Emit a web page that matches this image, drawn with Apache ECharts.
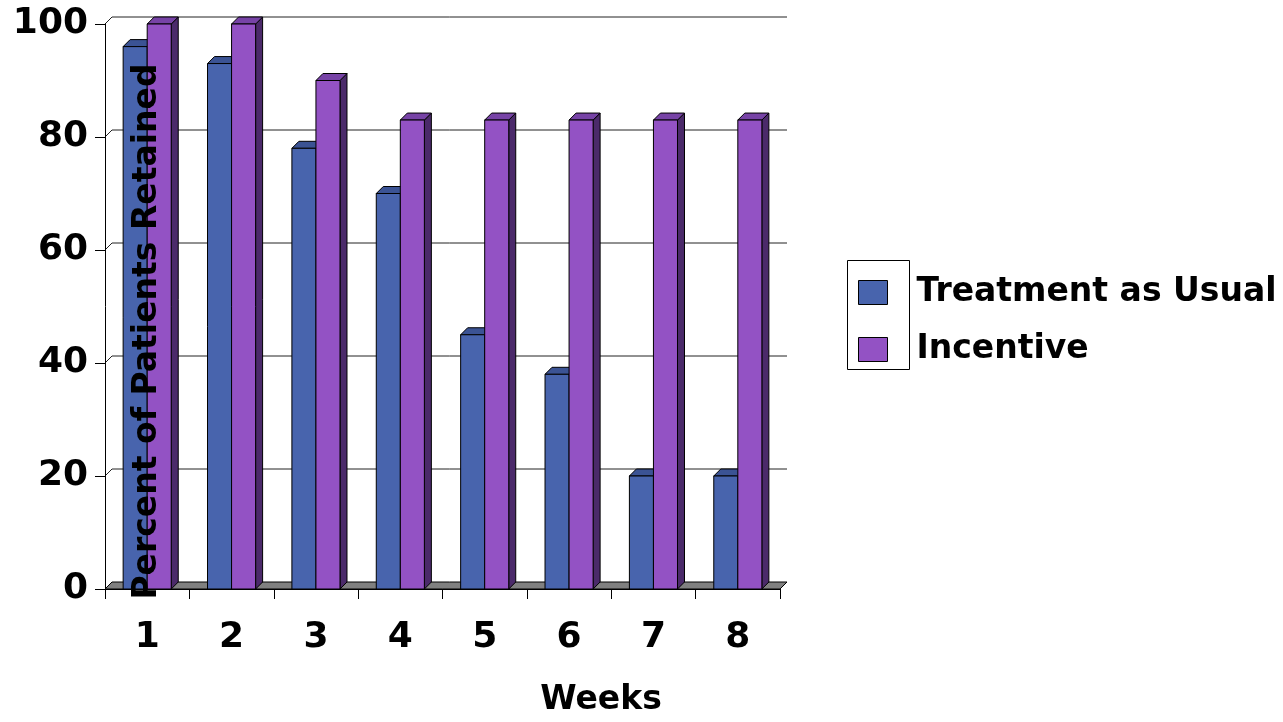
<!DOCTYPE html>
<html>
<head>
<meta charset="utf-8">
<title>Percent of Patients Retained</title>
<script src="https://cdn.jsdelivr.net/npm/echarts@6/dist/echarts.min.js"></script>
<style>
  html, body { margin: 0; padding: 0; background: #fff; }
  #chart { width: 1283px; height: 722px; }
</style>
</head>
<body>
<div id="chart"></div>
<script>
// Retention by week for the two study arms (percent)
const weeks = ['1', '2', '3', '4', '5', '6', '7', '8'];
const treatmentAsUsual = [96, 93, 78, 70, 45, 38, 20, 20];
const incentive = [100, 100, 90, 83, 83, 83, 83, 83];
const yTicks = [0, 20, 40, 60, 80, 100];

const DEPTH = 7;               // pseudo-3D offset, px to the right and up
const FONT = 'DejaVu Sans';

const BLUE = { front: '#4864ad', top: '#3b5394', side: '#2e4174' };
const PURPLE = { front: '#9352c4', top: '#7743a6', side: '#4b2a6a' };

// A column with front face, top face and right side face.
function columnRenderer(slot, colors) {
  return function (params, api) {
    const idx = api.value(0);
    const top = api.coord([idx, api.value(1)]);
    const base = api.coord([idx, 0]);
    const band = api.size([1, 0])[0];
    const w = band * 0.285;
    const x0 = slot === 0 ? top[0] - w : top[0];
    const x1 = x0 + w;
    const yT = top[1];
    const yB = base[1];
    const d = DEPTH;
    const edge = { stroke: '#000', lineWidth: 1 };
    return {
      type: 'group',
      children: [
        { type: 'polygon', shape: { points: [[x1, yB], [x1 + d, yB - d], [x1 + d, yT - d], [x1, yT]] },
          style: Object.assign({ fill: colors.side }, edge) },
        { type: 'polygon', shape: { points: [[x0, yT], [x0 + d, yT - d], [x1 + d, yT - d], [x1, yT]] },
          style: Object.assign({ fill: colors.top }, edge) },
        { type: 'rect', shape: { x: x0, y: yT, width: w, height: yB - yT },
          style: Object.assign({ fill: colors.front }, edge) }
      ]
    };
  };
}

// Back wall gridlines and the floor slab.
function wallRenderer(params, api) {
  const cs = params.coordSys;
  const left = cs.x;
  const right = cs.x + cs.width;
  const v = api.value(1);
  const y = api.coord([0, v])[1];
  const d = DEPTH;
  if (v === 0) {
    return {
      type: 'polygon',
      shape: { points: [[left, y], [left + d, y - d], [right + d, y - d], [right, y]] },
      style: { fill: '#808080', stroke: '#000', lineWidth: 1 }
    };
  }
  return {
    type: 'polyline',
    shape: { points: [[left, y], [left + d, y - d], [right + d, y - d]] },
    style: { fill: null, stroke: '#222', lineWidth: 1 }
  };
}

const chart = echarts.init(document.getElementById('chart'), null, { renderer: 'canvas' });

chart.setOption({
  animation: false,
  backgroundColor: '#fff',
  textStyle: { fontFamily: FONT },
  grid: { left: 105, right: 503, top: 24, bottom: 131 },
  legend: {
    orient: 'vertical',
    left: 858,
    top: 276,
    padding: 0,
    itemWidth: 29,
    itemHeight: 24,
    itemGap: 24,
    selectedMode: false,
    textStyle: { fontFamily: FONT, fontSize: 33, fontWeight: 'bold', color: '#000',
                 lineHeight: 30, padding: [0, 0, 0, 24] },
    data: [
      { name: 'Treatment as Usual', icon: 'rect',
        itemStyle: { color: BLUE.front, borderColor: '#000', borderWidth: 1 } },
      { name: 'Incentive', icon: 'rect',
        itemStyle: { color: PURPLE.front, borderColor: '#000', borderWidth: 1 } }
    ]
  },
  graphic: [
    { type: 'rect', left: 845, top: 258, shape: { width: 62, height: 109 },
      style: { fill: null, stroke: '#000', lineWidth: 1 } }
  ],
  xAxis: {
    type: 'category',
    data: weeks,
    boundaryGap: true,
    name: 'Weeks',
    nameLocation: 'middle',
    nameGap: 95,
    nameTextStyle: { fontFamily: FONT, fontSize: 33, fontWeight: 'bold', color: '#000',
                     padding: [0, 0, 0, 317] },
    axisLine: { show: true, lineStyle: { color: '#000', width: 1 } },
    axisTick: { show: true, alignWithLabel: false, length: 10, lineStyle: { color: '#000' } },
    axisLabel: { fontFamily: FONT, fontSize: 36, fontWeight: 'bold', color: '#000', margin: 31 },
    splitLine: { show: false }
  },
  yAxis: {
    type: 'value',
    min: 0,
    max: 100,
    interval: 20,
    z: 10,
    name: 'Percent of Patients Retained',
    nameLocation: 'middle',
    nameGap: -59,
    nameTextStyle: { fontFamily: FONT, fontSize: 33, fontWeight: 'bold', color: '#000',
                     padding: [0, 50, 0, 0] },
    axisLine: { show: true, lineStyle: { color: '#000', width: 1 } },
    axisTick: { show: true, length: 10, lineStyle: { color: '#000' } },
    axisLabel: { fontFamily: FONT, fontSize: 36, fontWeight: 'bold', color: '#000', margin: 17,
                 formatter: function (v) { return yTicks.indexOf(v) >= 0 ? String(v) : ''; } },
    splitLine: { show: false }
  },
  series: [
    {
      name: 'wall',
      type: 'custom',
      z: 1,
      silent: true,
      renderItem: wallRenderer,
      data: yTicks.map(function (v) { return [0, v]; })
    },
    {
      name: 'Treatment as Usual',
      type: 'custom',
      z: 2,
      itemStyle: { color: BLUE.front },
      renderItem: columnRenderer(0, BLUE),
      data: treatmentAsUsual.map(function (v, i) { return [i, v]; })
    },
    {
      name: 'Incentive',
      type: 'custom',
      z: 3,
      itemStyle: { color: PURPLE.front },
      renderItem: columnRenderer(1, PURPLE),
      data: incentive.map(function (v, i) { return [i, v]; })
    }
  ]
});
</script>
</body>
</html>
